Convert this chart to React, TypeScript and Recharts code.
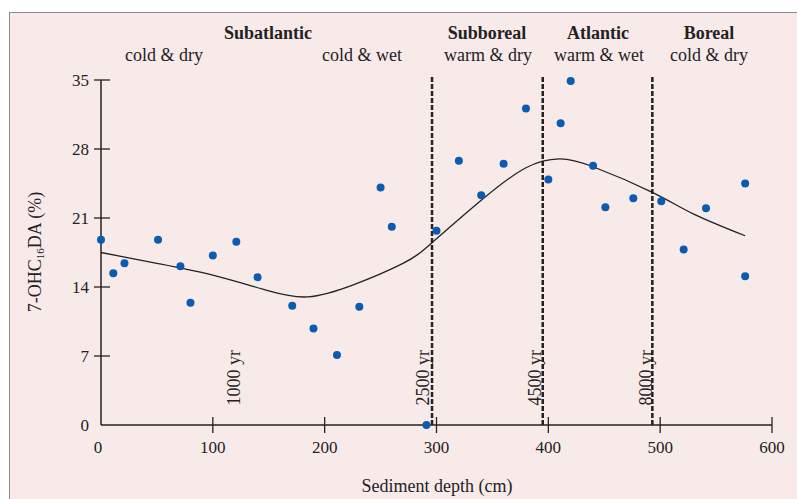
import React from 'react';
import {
  ComposedChart,
  Scatter,
  Line,
  XAxis,
  YAxis,
  ReferenceLine,
  ReferenceDot,
} from 'recharts';

// measured samples
const depth = [0, 11, 21, 51, 71, 80, 100, 121, 140, 171, 190, 211, 231, 250, 260, 291, 300, 320, 340, 360, 380, 400, 411, 420, 440, 451, 476, 501, 521, 541, 576, 576];
const ohc = [18.8, 15.4, 16.4, 18.8, 16.1, 12.4, 17.2, 18.6, 15.0, 12.1, 9.8, 7.1, 12.0, 24.1, 20.1, 0, 19.7, 26.8, 23.3, 26.5, 32.1, 24.9, 30.6, 34.9, 26.3, 22.1, 23.0, 22.7, 17.8, 22.0, 24.5, 15.1];

// smoothed trend curve
const curveDepth = [0, 50, 100, 150, 185, 225, 270, 296, 340, 380, 410, 440, 493, 530, 576];
const curveVal = [17.5, 16.4, 15.2, 13.6, 13.0, 14.2, 16.4, 18.5, 22.8, 26.1, 27.0, 26.2, 23.6, 21.4, 19.2];

// period boundaries and age labels
const boundaries = [296, 395, 493];
const ageDepth = [119, 288, 388, 487];
const ageLabels = ['1000 yr', '2500 yr', '4500 yr', '8000 yr'];

const xTicks = [0, 100, 200, 300, 400, 500, 600];
const yTicks = [0, 7, 14, 21, 28, 35];

const periods = [
  { name: 'Subatlantic', x: 268 },
  { name: 'Subboreal', x: 487 },
  { name: 'Atlantic', x: 598 },
  { name: 'Boreal', x: 709 },
];
const climates = [
  { name: 'cold & dry', x: 164 },
  { name: 'cold & wet', x: 362 },
  { name: 'warm & dry', x: 488 },
  { name: 'warm & wet', x: 599 },
  { name: 'cold & dry', x: 709 },
];

const points = depth.map((d, i) => ({ x: d, y: ohc[i] }));
const curve = curveDepth.map((d, i) => ({ x: d, y: curveVal[i] }));

const FONT = '"Liberation Serif", "Times New Roman", serif';
const INK = '#222';
const DOT = '#0b5cb0';

const XTick = (props: any) => {
  const { x, y, payload } = props;
  return (
    <g>
      {payload.value !== 0 && (
        <line x1={x} x2={x} y1={y - 8} y2={y + 8} stroke={INK} strokeWidth={1.3} />
      )}
      <text x={payload.value === 0 ? x - 3 : x} y={y + 28} textAnchor="middle" fontSize={17} fontFamily={FONT} fill={INK}>
        {payload.value}
      </text>
    </g>
  );
};

const YTick = (props: any) => {
  const { x, y, payload } = props;
  return (
    <g>
      {payload.value !== 0 && (
        <line x1={x - 7} x2={x + 9} y1={y} y2={y} stroke={INK} strokeWidth={1.3} />
      )}
      <text x={x - 12} y={y} dy="0.35em" textAnchor="end" fontSize={17} fontFamily={FONT} fill={INK}>
        {payload.value}
      </text>
    </g>
  );
};

const AgeLabel = (text: string) => (props: any) => {
  const { viewBox } = props;
  const cx = viewBox.x + (viewBox.width || 0) / 2;
  const cy = viewBox.y + (viewBox.height || 0) / 2;
  return (
    <text
      x={cx}
      y={cy}
      transform={`rotate(-90 ${cx} ${cy})`}
      textAnchor="middle"
      dominantBaseline="central"
      fontSize={18}
      fontFamily={FONT}
      fill={INK}
    >
      {text}
    </text>
  );
};

const Dot = (props: any) => <circle cx={props.cx} cy={props.cy} r={4} fill={DOT} />;

const textStyle: React.CSSProperties = {
  position: 'absolute',
  transform: 'translate(-50%, -50%)',
  whiteSpace: 'nowrap',
  fontFamily: FONT,
  color: INK,
  lineHeight: 1,
};

export default function App() {
  return (
    <div style={{ position: 'absolute', left: 0, top: 0, width: 797, height: 499, background: '#fff', overflow: 'hidden' }}>
      <div
        style={{
          position: 'absolute',
          left: 9,
          top: 12,
          right: 0,
          bottom: 0,
          background: '#f9eaea',
          borderLeft: '1.5px solid #8a8a8a',
          borderTop: '1.5px solid #8a8a8a',
        }}
      />
      {periods.map((p) => (
        <div key={p.name} style={{ ...textStyle, left: p.x, top: 33, fontSize: 18, fontWeight: 'bold' }}>
          {p.name}
        </div>
      ))}
      {climates.map((c, i) => (
        <div key={i} style={{ ...textStyle, left: c.x, top: 55, fontSize: 18 }}>
          {c.name}
        </div>
      ))}
      <div style={{ ...textStyle, left: 36, top: 252, fontSize: 18, transform: 'translate(-50%, -50%) rotate(-90deg)' }}>
        7-OHC<sub style={{ fontSize: 11, verticalAlign: '-0.25em' }}>16</sub>DA (%)
      </div>
      <div style={{ ...textStyle, left: 437, top: 486, fontSize: 18 }}>Sediment depth (cm)</div>
      <div style={{ position: 'absolute', left: 0, top: 0 }}>
        <ComposedChart width={797} height={499} margin={{ top: 80, right: 25, bottom: 0, left: 0 }}>
          <XAxis
            type="number"
            dataKey="x"
            domain={[0, 600]}
            ticks={xTicks}
            height={74}
            tickSize={0}
            tickMargin={0}
            tickLine={false}
            tick={<XTick />}
            axisLine={{ stroke: INK, strokeWidth: 1.5 }}
          />
          <YAxis
            type="number"
            dataKey="y"
            domain={[0, 35]}
            ticks={yTicks}
            width={101}
            tickSize={0}
            tickMargin={0}
            tickLine={false}
            tick={<YTick />}
            axisLine={{ stroke: INK, strokeWidth: 1.5 }}
          />
          {boundaries.map((b) => (
            <ReferenceLine
              key={b}
              segment={[{ x: b, y: 0 }, { x: b, y: 35.5 }]}
              ifOverflow="visible"
              stroke={INK}
              strokeWidth={2.5}
              strokeDasharray="5 2"
            />
          ))}
          {ageDepth.map((d, i) => (
            <ReferenceDot
              key={ageLabels[i]}
              x={d}
              y={4.8}
              r={0}
              fill="none"
              stroke="none"
              label={AgeLabel(ageLabels[i])}
            />
          ))}
          <Line
            data={curve}
            dataKey="y"
            type="natural"
            dot={false}
            activeDot={false}
            stroke={INK}
            strokeWidth={1.3}
            isAnimationActive={false}
          />
          <Scatter data={points} dataKey="y" shape={<Dot />} isAnimationActive={false} />
        </ComposedChart>
      </div>
    </div>
  );
}
